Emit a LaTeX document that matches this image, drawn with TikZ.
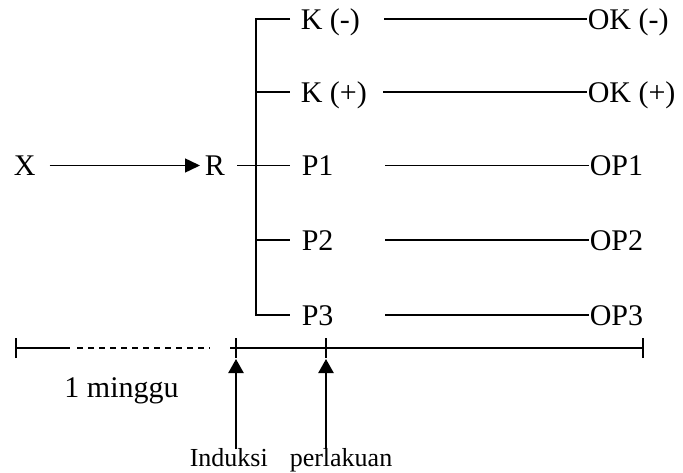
\documentclass[tikz,border=0pt]{standalone}
\usepackage{fontspec}
\setmainfont{Liberation Serif}
\usetikzlibrary{arrows.meta}
\begin{document}
\begin{tikzpicture}[x=1pt,y=-1pt, line width=1.5pt,
  lbl/.style={inner sep=0pt, anchor=west, text height=21pt, text depth=0pt, font=\fontsize{30}{36}\selectfont},
  small/.style={inner sep=0pt, anchor=base west, font=\fontsize{26}{30}\selectfont},
  tip/.style={-{Triangle[length=15pt,width=14pt]}},
  uptip/.style={line width=2.4pt, -{Triangle[length=14pt,width=15pt]}},
  dashline/.style={dash pattern=on 6pt off 5pt}]
\useasboundingbox (0,0) rectangle (683,473);
% labels
\node[lbl] (X) at (13,165.5) {X};
\node[lbl] (R) at (204,165.5) {R};
\node[lbl] (K1) at (300,19) {K (-)};
\node[lbl] (K2) at (300,92) {K (+)};
\node[lbl] (P1) at (301,165.5) {P1};
\node[lbl] (P2) at (301,240) {P2};
\node[lbl] (P3) at (301,315) {P3};
\node[lbl] (O1) at (587,19) {OK (-)};
\node[lbl] (O2) at (587,92) {OK (+)};
\node[lbl] (O3) at (589,165.5) {OP1};
\node[lbl] (O4) at (589,240) {OP2};
\node[lbl] (O5) at (589,315) {OP3};
% bracket coordinates
\coordinate (b1) at (256,19);
\coordinate (b2) at (256,92);
\coordinate (b3) at (256,165.5);
\coordinate (b4) at (256,240);
\coordinate (b5) at (256,315);
\coordinate (s1) at (290,19);
\coordinate (s2) at (290,92);
\coordinate (s3) at (290,165.5);
\coordinate (s4) at (290,240);
\coordinate (s5) at (290,315);
\coordinate (l1) at (384,19);
\coordinate (l2) at (383,92);
\coordinate (l3) at (385,165.5);
\coordinate (l4) at (385,240);
\coordinate (l5) at (385,315);
% connectors
\draw[tip, shorten <=13.5pt, shorten >=4pt] (X.east) -- (R.west);
\draw[shorten <=11.5pt] (R.east) -- (s3);
\draw (s1) -- (b1) -- (b5) -- (s5);
\draw (b2) -- (s2);
\draw (b4) -- (s4);
\draw (l1) -- (O1.west);
\draw (l2) -- (O2.west);
\draw (l3) -- (O3.west);
\draw (l4) -- (O4.west);
\draw (l5) -- (O5.west);
% timeline
\coordinate (t0) at (16,348);
\coordinate (t1) at (70,348);
\coordinate (t2) at (77,348);
\coordinate (t3) at (210,348);
\coordinate (t4) at (230,348);
\coordinate (ti) at (236,348);
\coordinate (tp) at (326,348);
\coordinate (te) at (643,348);
\draw (t0) -- (t1);
\draw[dashline] (t2) -- (t3);
\draw (t4) -- (te);
\foreach \c in {t0,ti,tp,te} \draw ([yshift=-10pt]\c) -- ([yshift=10pt]\c);
\coordinate (ai) at (236,449);
\coordinate (ap) at (326,449);
\draw[uptip, shorten >=11pt] (ai) -- (ti);
\draw[uptip, shorten >=11pt] (ap) -- (tp);
\node[inner sep=0pt, anchor=base, font=\fontsize{30}{36}\selectfont] (mg) at (121.5,397) {1 minggu};
\node[small] (ind) at (189,466) {Induksi};
\node[small] (per) at (289,466) {perlakuan};
\end{tikzpicture}
\end{document}
